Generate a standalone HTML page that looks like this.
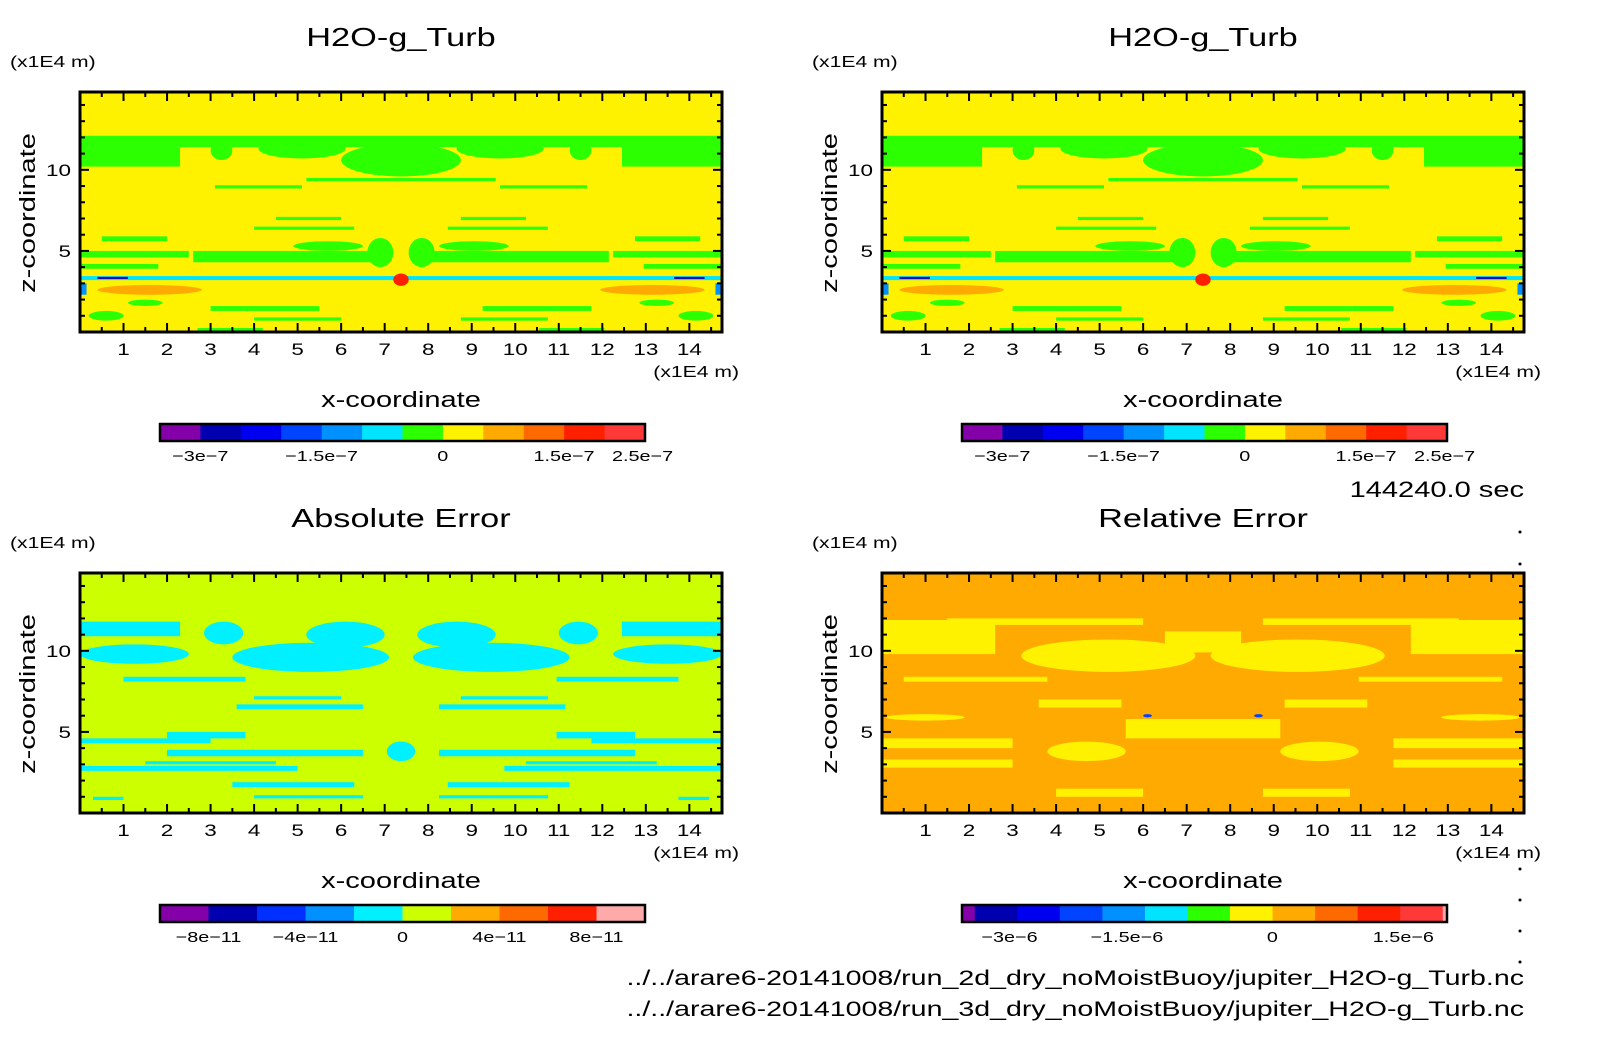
<!DOCTYPE html>
<html><head><meta charset="utf-8">
<style>
html,body{margin:0;padding:0;background:#fff;}
svg{display:block;font-family:"Liberation Sans",sans-serif;}
</style></head>
<body>
<svg id="fig" width="1604" height="1054" viewBox="0 0 1604 1054" xmlns="http://www.w3.org/2000/svg">
<text x="1524" y="497" font-size="22" text-anchor="end">144240.0 sec</text>
<text x="1524" y="985" font-size="21" text-anchor="end" data-wide="1">../../arare6-20141008/run_2d_dry_noMoistBuoy/jupiter_H2O-g_Turb.nc</text>
<text x="1524" y="1016" font-size="21" text-anchor="end" data-wide="1">../../arare6-20141008/run_3d_dry_noMoistBuoy/jupiter_H2O-g_Turb.nc</text>
</svg>
<script>
// ---------- data ----------
const xTicks = [1,2,3,4,5,6,7,8,9,10,11,12,13,14];
const zTicks = [5,10];
const xMax = 14.75, zMax = 14.8, xMid = 7.375;

// colorbars
const cbTurbColors = ["#8400a8","#0000b0","#0000f0","#0044ff","#0090ff","#00e4ff","#2cff00","#fff200","#ffaa00","#ff6a00","#ff2000","#ff3838"];
const cbTurbLabels = ["-3e-7","-1.5e-7","0","1.5e-7","2.5e-7"];
const cbTurbLabelPos = [0.083,0.333,0.583,0.833,0.995];
const cbAbsColors = ["#8400a8","#0000b0","#0030ff","#0090ff","#00f0ff","#ccff00","#ffaa00","#ff6a00","#ff2000","#ffaaaa"];
const cbAbsLabels = ["-8e-11","-4e-11","0","4e-11","8e-11"];
const cbAbsLabelPos = [0.1,0.3,0.5,0.7,0.9];
const cbRelColors = ["#8400a8","#0000b0","#0000f0","#0044ff","#0090ff","#00e4ff","#2cff00","#fff200","#ffaa00","#ff6a00","#ff2000","#ff3838","#ffaaaa"];
const cbRelWeights = [0.3,1,1,1,1,1,1,1,1,1,1,1,0.1];
const cbRelLabels = ["-3e-6","-1.5e-6","0","1.5e-6"];
const cbRelLabelPos = [0.098,0.34,0.64,0.91];

// contour regions (left half, mirrored about xMid): [type, x1, x2, z1, z2, color]
const turbBg = "#fff200";
const turbRegions = [
 ["r",0,7.375,11.4,12.1,"#2cff00"],
 ["r",0,2.3,10.2,11.4,"#2cff00"],
 ["e",3.0,3.5,10.6,11.8,"#2cff00"],
 ["e",4.1,6.1,10.7,11.9,"#2cff00"],
 ["e",6.0,8.75,9.6,11.6,"#2cff00"],
 ["r",3.1,5.1,8.85,9.05,"#2cff00"],
 ["r",5.2,7.375,9.3,9.5,"#2cff00"],
 ["r",4.0,6.3,6.3,6.5,"#2cff00"],
 ["r",4.5,6.0,6.9,7.1,"#2cff00"],
 ["r",2.6,6.7,4.3,5.0,"#2cff00"],
 ["e",4.9,6.5,5.0,5.6,"#2cff00"],
 ["r",0,2.5,4.6,5.0,"#2cff00"],
 ["r",0.5,2.0,5.6,5.9,"#2cff00"],
 ["r",0,1.8,3.9,4.2,"#2cff00"],
 ["e",6.6,7.2,4.0,5.8,"#2cff00"],
 ["r",0,7.375,3.2,3.45,"#00e4ff"],
 ["r",0.4,1.1,3.27,3.4,"#0000b0"],
 ["e",0.4,2.8,2.3,2.9,"#ffaa00"],
 ["r",0,0.15,2.3,3.0,"#0090ff"],
 ["r",3.0,5.5,1.3,1.6,"#2cff00"],
 ["r",4.0,6.0,0.7,0.9,"#2cff00"],
 ["e",1.1,1.9,1.6,2.0,"#2cff00"],
 ["e",0.2,1.0,0.7,1.3,"#2cff00"],
 ["r",2.7,4.2,0,0.25,"#2cff00"],
 ["e",7.2,7.55,2.85,3.6,"#ff2000"]
];
const absBg = "#ccff00";
const absRegions = [
 ["r",0,2.3,10.9,11.8,"#00f0ff"],
 ["e",3.5,7.1,8.7,10.5,"#00f0ff"],
 ["e",5.2,7.0,10.2,11.8,"#00f0ff"],
 ["e",0,2.5,9.2,10.4,"#00f0ff"],
 ["e",2.85,3.75,10.4,11.8,"#00f0ff"],
 ["r",1.0,3.8,8.1,8.4,"#00f0ff"],
 ["r",3.6,6.5,6.4,6.7,"#00f0ff"],
 ["r",4.0,6.0,7.0,7.2,"#00f0ff"],
 ["r",0,3.0,4.3,4.6,"#00f0ff"],
 ["r",2.0,6.5,3.5,3.9,"#00f0ff"],
 ["r",0,5.0,2.6,2.9,"#00f0ff"],
 ["r",1.5,4.5,3.0,3.2,"#00f0ff"],
 ["r",3.5,6.3,1.6,1.9,"#00f0ff"],
 ["r",4.0,6.5,0.9,1.1,"#00f0ff"],
 ["r",0.3,1.0,0.8,1.0,"#00f0ff"],
 ["r",2.0,3.8,4.6,5.0,"#00f0ff"],
 ["e",7.05,7.7,3.2,4.4,"#00f0ff"]
];
const relBg = "#ffaa00";
const relRegions = [
 ["r",0,2.6,9.8,11.9,"#fff200"],
 ["e",3.2,7.2,8.7,10.7,"#fff200"],
 ["r",6.5,7.375,9.9,11.2,"#fff200"],
 ["r",1.5,6.0,11.6,12.0,"#fff200"],
 ["r",0.5,3.8,8.1,8.4,"#fff200"],
 ["r",0,3.0,4.0,4.6,"#fff200"],
 ["e",3.8,5.6,3.2,4.4,"#fff200"],
 ["r",5.6,7.375,4.6,5.8,"#fff200"],
 ["r",0,3.0,2.8,3.3,"#fff200"],
 ["r",4.0,6.0,1.0,1.5,"#fff200"],
 ["e",0.1,1.9,5.7,6.1,"#fff200"],
 ["r",3.6,5.5,6.5,7.0,"#fff200"],
 ["e",6.0,6.2,5.9,6.1,"#0044ff"]
];

// ---------- drawing ----------
const NS = "http://www.w3.org/2000/svg";
const fig = document.getElementById("fig");
function mk(tag, attrs, parent){
  const e = document.createElementNS(NS, tag);
  for (const k in attrs) e.setAttribute(k, attrs[k]);
  (parent||fig).appendChild(e); return e;
}
const W = 642, H = 240;

function panel(ox, oy, title, bg, regions, cbColors, cbWeights, cbLabels, cbPos, key){
  const sx = x => ox + x / xMax * W;
  const sz = z => oy + H - z / zMax * H;
  const g = mk("g", {});
  
  
  const cx = ox + W/2;
  const t = mk("text", {x: cx, y: oy - 46, "font-size": 26, "text-anchor": "middle"}, g);
  t.textContent = title;
  
  
  const u = mk("text", {x: ox - 70, y: oy - 25, "font-size": 16}, g);
  u.textContent = "(x1E4 m)";
  
  
  const bgr = mk("rect", {x: ox, y: oy, width: W, height: H, fill: bg}, g);
  
  
  const clip = mk("clipPath", {id: "clip-" + key}, g);
  mk("rect", {x: ox, y: oy, width: W, height: H}, clip);
  const cg = mk("g", {"clip-path": "url(#clip-" + key + ")"}, g);
  regions.forEach(r => {
    const [type, x1, x2, z1, z2, col] = r;
    [[x1, x2], [2*xMid - x2, 2*xMid - x1]].forEach(([a, b]) => {
      let el;
      if (type === "r") el = mk("rect", {x: sx(a), y: sz(z2), width: sx(b) - sx(a), height: sz(z1) - sz(z2), fill: col}, cg);
      else el = mk("ellipse", {cx: (sx(a)+sx(b))/2, cy: (sz(z1)+sz(z2))/2, rx: (sx(b)-sx(a))/2, ry: (sz(z1)-sz(z2))/2, fill: col}, cg);
      
      
    });
  });
  for (let v = 0.5; v < xMax; v += 0.5) {
    const major = Math.abs(v - Math.round(v)) < 1e-6;
    const L = major ? 9 : 5;
    mk("line", {x1: sx(v), x2: sx(v), y1: oy, y2: oy + L, stroke: "#000", "stroke-width": 2}, g);
    mk("line", {x1: sx(v), x2: sx(v), y1: oy + H, y2: oy + H - L, stroke: "#000", "stroke-width": 2}, g);
  }
  for (let v = 1; v < zMax; v += 1) {
    const major = v % 5 === 0;
    const L = major ? 9 : 5;
    mk("line", {x1: ox, x2: ox + L, y1: sz(v), y2: sz(v), stroke: "#000", "stroke-width": 2}, g);
    mk("line", {x1: ox + W, x2: ox + W - L, y1: sz(v), y2: sz(v), stroke: "#000", "stroke-width": 2}, g);
  }
  xTicks.forEach(v => {
    const tl = mk("text", {x: sx(v), y: oy + H + 23, "font-size": 17, "text-anchor": "middle"}, g);
    tl.textContent = v;
    
    
  });
  zTicks.forEach(v => {
    const tl = mk("text", {x: ox - 9, y: sz(v) + 6, "font-size": 17, "text-anchor": "end"}, g);
    tl.textContent = v;
    
    
  });
  const fr = mk("rect", {x: ox, y: oy, width: W, height: H, fill: "none", stroke: "#000", "stroke-width": 3}, g);
  
  
  const xu = mk("text", {x: ox + W + 17, y: oy + H + 45, "font-size": 16, "text-anchor": "end"}, g);
  xu.textContent = "(x1E4 m)";
  
  
  const xt = mk("text", {x: cx, y: oy + H + 75, "font-size": 22, "text-anchor": "middle"}, g);
  xt.textContent = "x-coordinate";
  
  
  const yt = mk("text", {x: 0, y: 0, "font-size": 22, "text-anchor": "middle", transform: "translate(" + (ox - 45) + "," + (oy + H/2 + 1) + ") rotate(-90)"}, g);
  yt.textContent = "z-coordinate";
  
  
  const bx = ox + 80, bw = 485, by = oy + H + 92, bh = 17;
  const tw = cbWeights.reduce((a, b) => a + b, 0);
  let acc = 0;
  cbColors.forEach((c, i) => {
    const s = mk("rect", {x: bx + acc / tw * bw, y: by, width: cbWeights[i] / tw * bw + 0.5, height: bh, fill: c}, g);
    
    
    acc += cbWeights[i];
  });
  mk("rect", {x: bx, y: by, width: bw, height: bh, fill: "none", stroke: "#000", "stroke-width": 2.5}, g);
  cbLabels.forEach((l, i) => {
    const tl = mk("text", {x: bx + cbPos[i] * bw, y: by + 37, "font-size": 15, "text-anchor": "middle"}, g);
    tl.textContent = l.replace(/-/g, "\u2212");
    
    
  });
}
const ones = n => Array(n).fill(1);
panel(80, 92, "H2O-g_Turb", turbBg, turbRegions, cbTurbColors, ones(12), cbTurbLabels, cbTurbLabelPos, "turb-2d");
panel(882, 92, "H2O-g_Turb", turbBg, turbRegions, cbTurbColors, ones(12), cbTurbLabels, cbTurbLabelPos, "turb-3d");
panel(80, 573, "Absolute Error", absBg, absRegions, cbAbsColors, ones(10), cbAbsLabels, cbAbsLabelPos, "abs-error");
panel(882, 573, "Relative Error", relBg, relRegions, cbRelColors, cbRelWeights, cbRelLabels, cbRelLabelPos, "rel-error");
[532, 564, 869, 900, 931, 962].forEach(y => {
  const d = mk("circle", {cx: 1520, cy: y, r: 1.5, fill: "#000"});
  
  
});
document.querySelectorAll("#fig text").forEach(t => {
  const len = t.getComputedTextLength();
  if (len > 0) {
    const f = t.getAttribute("data-wide") ? 1.36 : 1.32;
    t.setAttribute("textLength", (len * f).toFixed(1));
    t.setAttribute("lengthAdjust", "spacingAndGlyphs");
  }
});
</script>
</body></html>
